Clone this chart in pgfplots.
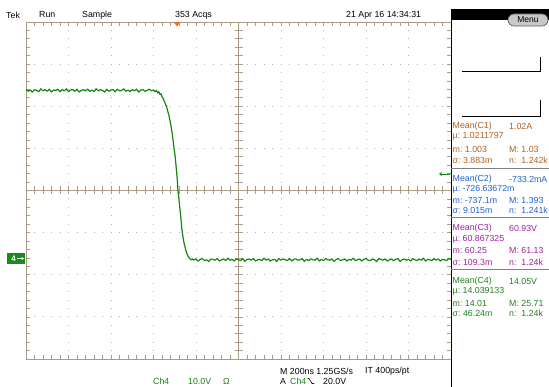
\documentclass[border=0pt]{standalone}
\usepackage{pgfplots}
\pgfplotsset{compat=1.18}
\usetikzlibrary{arrows.meta}
\usepackage{fontspec}
\setmainfont{Liberation Sans}
\definecolor{grat}{RGB}{168,156,132}
\definecolor{gratdot}{RGB}{185,175,155}
\definecolor{trace}{RGB}{18,135,18}
\definecolor{cone}{RGB}{176,96,32}
\definecolor{ctwo}{RGB}{32,96,208}
\definecolor{cthree}{RGB}{160,32,160}
\definecolor{cfour}{RGB}{32,128,32}
\definecolor{trig}{RGB}{240,112,32}
\definecolor{gnd}{RGB}{26,138,26}
\begin{document}
\begin{tikzpicture}[x=1pt,y=1pt]
\path[use as bounding box, fill=white] (0,0) rectangle (549,387);
% graticule dotted lines
\foreach \i in {1,...,9} {\draw[gratdot, line width=0.9pt, dash pattern=on 0.9pt off 7.525pt, dash phase=0.45pt] ({26+42.5*\i},28) -- ({26+42.5*\i},365);}
\foreach \j in {1,...,7} {\draw[gratdot, line width=0.9pt, dash pattern=on 0.9pt off 7.6pt, dash phase=0.45pt] (26,{28+42.125*\j}) -- (451,{28+42.125*\j});}
% centre lines
\draw[grat, line width=0.8pt] (238.5,28) -- (238.5,365);
\draw[grat, line width=0.8pt] (26,196.5) -- (451,196.5);
\foreach \k in {1,...,49} {\draw[grat, line width=0.7pt] ({26+8.5*\k},192.5) -- ({26+8.5*\k},200.5);}
\foreach \k in {1,...,39} {\draw[grat, line width=0.7pt] (234.5,{28+8.425*\k}) -- (242.5,{28+8.425*\k});}
% border ticks
\foreach \k in {1,...,49} {\draw[grat, line width=0.7pt] ({26+8.5*\k},365) -- ({26+8.5*\k},361);
  \draw[grat, line width=0.7pt] ({26+8.5*\k},28) -- ({26+8.5*\k},32);}
\foreach \k in {1,...,39} {\draw[grat, line width=0.7pt] (26,{28+8.425*\k}) -- (30,{28+8.425*\k});
  \draw[grat, line width=0.7pt] (451,{28+8.425*\k}) -- (447,{28+8.425*\k});}
\draw[grat, line width=0.8pt] (451,28) -- (26,28) -- (26,365) -- (451,365);
\draw[black, line width=0.9pt] (451,0) -- (451,367);
% trigger position marker
\fill[trig] (173.5,365) -- (180.5,365) -- (177,360.5) -- cycle;

\begin{axis}[
  at={(26pt,28pt)}, anchor=south west, scale only axis,
  width=425pt, height=337pt,
  xmin=-1000, xmax=1000, ymin=-23.85, ymax=56.15,
  hide axis,
]
\addplot[trace, line width=1.2pt, line join=round] coordinates {
(-1000,40.2) (-990,39.7) (-980,40.0) (-970,39.5) (-960,40.1) (-950,39.9) (-940,39.6) (-930,40.3) (-920,39.8) (-910,40.1)
(-900,39.7) (-890,40.2) (-880,39.5) (-870,40.0) (-860,39.9) (-850,40.2) (-840,39.6) (-830,40.1) (-820,39.8) (-810,40.3)
(-800,39.6) (-790,40.0) (-780,40.1) (-770,39.7) (-760,40.2) (-750,39.5) (-740,39.9) (-730,40.1) (-720,39.8) (-710,40.2)
(-700,39.7) (-690,40.0) (-680,39.6) (-670,40.3) (-660,39.8) (-650,40.1) (-640,39.9) (-630,39.5) (-620,40.2) (-610,39.7)
(-600,40.0) (-590,40.1) (-580,39.6) (-570,40.2) (-560,39.8) (-550,39.9) (-540,40.3) (-530,39.7) (-520,40.0) (-510,39.6)
(-500,40.1) (-490,39.8) (-480,40.2) (-470,39.5) (-460,40.0) (-450,40.1) (-440,39.7) (-430,39.9) (-420,40.2) (-410,39.8)
(-400,40.0)
(-393,39.6) (-386,39.9) (-380,39.3) (-375,39.6) (-369,38.9) (-364,39.1) (-360,38.4) (-355,38.1) (-351,37.5) (-347,37.2)
(-343,36.4) (-339,36.3) (-336,35.5) (-332,34.8) (-327,33.9) (-322,32.6) (-318,31.6) (-313,30.0) (-308,28.1) (-304,26.4)
(-299,24.6) (-295,22.6) (-292,21.0) (-288,18.6) (-285,16.3) (-280,13.9) (-275,11.5) (-270,9.0) (-266,6.8) (-261,5.0)
(-256,3.6) (-251,2.6) (-247,1.8) (-242,1.1) (-238,0.6) (-233,0.2) (-228,-0.1) (-222,-0.3) (-216,-0.1) (-210,-0.4) (-205,-0.2)
(-200,-0.1) (-190,-0.6) (-180,-0.2) (-170,0.0) (-160,-0.5) (-150,-0.3) (-140,-0.7) (-130,-0.1) (-120,-0.2) (-110,-0.4)
(-100,0.0) (-90,-0.6) (-80,-0.3) (-70,-0.1) (-60,-0.5) (-50,0.1) (-40,-0.4) (-30,-0.2) (-20,-0.6) (-10,-0.1)
(0,-0.3) (10,-0.5) (20,0.0) (30,-0.7) (40,-0.2) (50,-0.1) (60,-0.4) (70,0.0) (80,-0.6) (90,-0.3)
(100,-0.2) (110,-0.5) (120,0.1) (130,-0.4) (140,-0.1) (150,-0.6) (160,-0.3) (170,-0.2) (180,-0.7) (190,0.0)
(200,-0.4) (210,-0.1) (220,-0.3) (230,-0.5) (240,0.0) (250,-0.6) (260,-0.2) (270,-0.1) (280,-0.4) (290,-0.3)
(300,0.0) (310,-0.7) (320,-0.2) (330,-0.5) (340,-0.1) (350,-0.3) (360,-0.4) (370,0.1) (380,-0.6) (390,-0.2)
(400,-0.5) (410,0.0) (420,-0.3) (430,-0.4) (440,-0.1) (450,-0.7) (460,-0.2) (470,0.0) (480,-0.5) (490,-0.3)
(500,-0.1) (510,-0.6) (520,-0.2) (530,-0.4) (540,0.1) (550,-0.5) (560,-0.3) (570,-0.1) (580,-0.6) (590,-0.2)
(600,0.0) (610,-0.4) (620,-0.5) (630,-0.1) (640,-0.3) (650,-0.7) (660,0.0) (670,-0.2) (680,-0.4) (690,-0.1)
(700,-0.6) (710,-0.3) (720,-0.1) (730,-0.5) (740,-0.2) (750,0.0) (760,-0.7) (770,-0.3) (780,-0.1) (790,-0.4)
(800,-0.2) (810,-0.6) (820,0.0) (830,-0.3) (840,-0.5) (850,-0.1) (860,-0.4) (870,0.1) (880,-0.6) (890,-0.2)
(900,-0.3) (910,-0.5) (920,0.0) (930,-0.4) (940,-0.1) (950,-0.6) (960,-0.2) (970,-0.3) (980,-0.5) (990,0.0)
(1000,-0.2)
};
\end{axis}

% ground marker
\fill[gnd] (7,123) rectangle (25,134);
\node[white, font=\fontsize{8}{9}\selectfont\bfseries, anchor=center, inner sep=0pt] at (13.5,128.5) {4};
\draw[white, line width=0.9pt, -{Stealth[length=2.5pt,width=3pt]}] (17,128.5) -- (24,128.5);
% trigger level marker
\draw[trace, line width=0.9pt, -{Stealth[length=3pt,width=4pt]}] (450,213) -- (439,213);

% top texts
\begin{scope}[every node/.style={anchor=west, inner sep=0pt, font=\fontsize{8.8}{10}\selectfont}]
\node at (6,372) {Tek};
\node at (39,372) {Run};
\node at (82,372) {Sample};
\node at (175,372) {353 Acqs};
\node at (346,372) {21 Apr 16 14:34:31};
% bottom texts
\node[text=cfour] at (153,6) {Ch4};
\node[text=cfour] at (188,6) {10.0V};
\node[text=cfour] at (223,6) {Ω};
\node at (280,16) {M 200ns 1.25GS/s};
\node at (365,16) {IT 400ps/pt};
\node at (280,6) {A};
\node[text=cfour] at (290,6) {Ch4};
\node at (323,6) {20.0V};
\end{scope}
\draw[black, line width=0.6pt] (307.5,8.5) -- (309,8.5) -- (312,3.5) -- (314,3.5);

% right panel
\fill[black] (451,367) rectangle (549,378);
\draw[fill={rgb,255:red,200;green,200;blue,200}, draw={rgb,255:red,90;green,90;blue,90}, line width=0.7pt, rounded corners=6pt] (508,361) rectangle (548,373);
\node[inner sep=0pt, font=\fontsize{8.5}{10}\selectfont] at (528,367) {Menu};
\draw[black, line width=0.7pt] (462,316) -- (540,316) -- (540,330);
\draw[black, line width=0.7pt] (462,271) -- (540,271) -- (540,287);
\draw[gray, line width=1pt] (451,218.7) -- (549,218.7);
\draw[gray, line width=1pt] (451,169.7) -- (549,169.7);
\draw[gray, line width=1pt] (451,117) -- (549,117);

\begin{scope}[every node/.style={anchor=west, inner sep=0pt, font=\fontsize{8.8}{10}\selectfont}]
\begin{scope}[every node/.append style={text=cone}]
\node at (452.5,260.3) {Mean(C1)};
\node at (509,260.3) {1.02A};
\node at (452.5,250.3) {µ:\ 1.0211797};
\node at (452.5,237.7) {m:\ 1.003};
\node at (509,237.7) {M:\ 1.03};
\node at (452.5,226.3) {σ:\ 3.883m};
\node at (509,226.3) {n:\ \ 1.242k};
\end{scope}
\begin{scope}[every node/.append style={text=ctwo}]
\node at (452.5,208) {Mean(C2)};
\node at (509,208) {-733.2mA};
\node at (452.5,197.7) {µ:\ -726.63672m};
\node at (452.5,186.3) {m:\ -737.1m};
\node at (509,186.3) {M:\ 1.393};
\node at (452.5,177) {σ:\ 9.015m};
\node at (509,177) {n:\ \ 1.241k};
\end{scope}
\begin{scope}[every node/.append style={text=cthree}]
\node at (452.5,158.7) {Mean(C3)};
\node at (509,158.7) {60.93V};
\node at (452.5,148) {µ:\ 60.867325};
\node at (452.5,136.3) {m:\ 60.25};
\node at (509,136.3) {M:\ 61.13};
\node at (452.5,124.3) {σ:\ 109.3m};
\node at (509,124.3) {n:\ \ 1.24k};
\end{scope}
\begin{scope}[every node/.append style={text=cfour}]
\node at (452.5,106) {Mean(C4)};
\node at (509,106) {14.05V};
\node at (452.5,95.3) {µ:\ 14.039133};
\node at (452.5,83.7) {m:\ 14.01};
\node at (509,83.7) {M:\ 25.71};
\node at (452.5,73.7) {σ:\ 46.24m};
\node at (509,73.7) {n:\ \ 1.24k};
\end{scope}
\end{scope}
\end{tikzpicture}
\end{document}
